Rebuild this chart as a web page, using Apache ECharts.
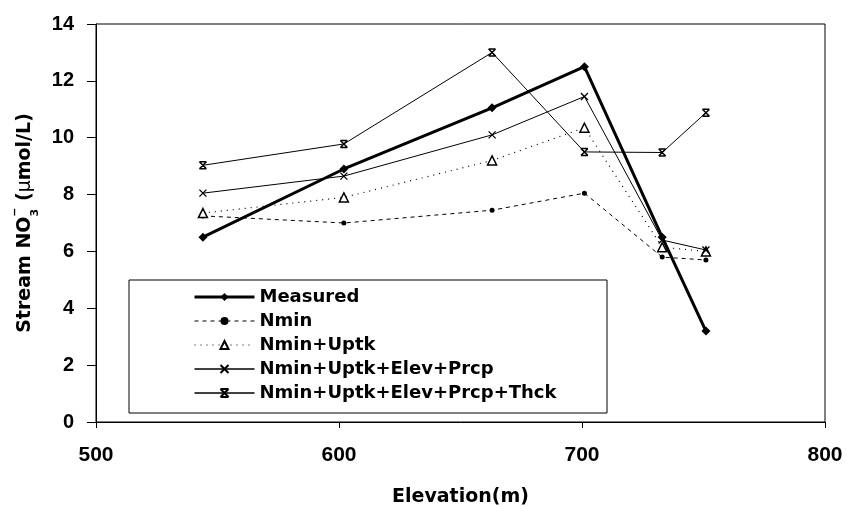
<!DOCTYPE html>
<html>
<head>
<meta charset="utf-8">
<script src="https://cdn.jsdelivr.net/npm/echarts@6/dist/echarts.min.js"></script>
<style>
  html, body { margin: 0; padding: 0; background: #fff; }
  #chart { width: 847px; height: 507px; }
</style>
</head>
<body>
<div id="chart"></div>
<script>
// elevation (m) of the sampled streams
const elevation = [544, 602, 663, 701, 733, 751];

const measured = [6.5, 8.9, 11.05, 12.5, 6.5, 3.2];
const nmin = [7.25, 7.0, 7.45, 8.05, 5.8, 5.7];
const nminUptk = [7.35, 7.9, 9.2, 10.35, 6.15, 6.0];
const nminUptkElevPrcp = [8.05, 8.65, 10.1, 11.45, 6.4, 6.05];
const nminUptkElevPrcpThck = [9.03, 9.78, 13.0, 9.5, 9.48, 10.88];

const yTicks = [0, 2, 4, 6, 8, 10, 12, 14];
const xTicks = [500, 600, 700, 800];

const seriesNames = [
    'Measured',
    'Nmin',
    'Nmin+Uptk',
    'Nmin+Uptk+Elev+Prcp',
    'Nmin+Uptk+Elev+Prcp+Thck'
];

const NUM_FONT = '"Liberation Sans", Arial, sans-serif';
const TEXT_FONT = '"DejaVu Sans", sans-serif';
const crossPath = 'path://M0,0L10,10M10,0L0,10';
const starPath = 'path://M0,0L10,0M0,10L10,10M0,0L10,10M10,0L0,10';

function pairs(values) {
    return elevation.map((x, i) => [x, values[i]]);
}

const chart = echarts.init(document.getElementById('chart'));

const option = {
    animation: false,
    backgroundColor: '#fff',
    textStyle: { fontFamily: NUM_FONT, color: '#000' },
    grid: {
        left: 96, right: 22, top: 24, bottom: 85,
        outerBoundsMode: 'none',
        show: true, borderColor: '#000', borderWidth: 1
    },
    xAxis: {
        type: 'value',
        min: 500, max: 800, interval: 100,
        name: 'Elevation(m)',
        nameLocation: 'middle',
        nameGap: 66,
        nameTextStyle: { fontSize: 19, fontWeight: 'bold', color: '#000', fontFamily: TEXT_FONT },
        axisLine: { lineStyle: { color: '#000', width: 1 } },
        axisTick: { length: 6, lineStyle: { color: '#000' } },
        axisLabel: {
            fontSize: 21, fontWeight: 'bold', color: '#000', margin: 23,
            formatter: v => xTicks.includes(v) ? String(v) : ''
        },
        splitLine: { show: false }
    },
    yAxis: {
        type: 'value',
        min: 0, max: 14, interval: 2,
        name: 'Stream NO{sub|3}{sup|−} ({b|μ}mol/L)',
        nameLocation: 'middle',
        nameGap: 59,
        nameTextStyle: {
            fontSize: 19, fontWeight: 'bold', color: '#000', fontFamily: TEXT_FONT,
            rich: {
                sub: { fontSize: 11, fontWeight: 'bold', fontFamily: TEXT_FONT, verticalAlign: 'bottom', padding: [0, 0, -6, 0] },
                sup: { fontSize: 11, fontWeight: 'bold', fontFamily: TEXT_FONT, verticalAlign: 'top', padding: [-6, 0, 0, -8] },
                b: { fontSize: 19, fontWeight: 'normal', fontFamily: TEXT_FONT }
            }
        },
        axisLine: { show: true, lineStyle: { color: '#000', width: 1 } },
        axisTick: { show: true, length: 9, lineStyle: { color: '#000' } },
        axisLabel: {
            fontSize: 20, fontWeight: 'bold', color: '#000', margin: 22,
            formatter: v => yTicks.includes(v) ? String(v) : ''
        },
        splitLine: { show: false }
    },
    legend: {
        orient: 'vertical',
        left: 188, top: 283,
        itemWidth: 60, itemHeight: 10, itemGap: 6,
        data: [
            { name: seriesNames[0], lineStyle: { width: 3 } },
            { name: seriesNames[1], lineStyle: { width: 1 } },
            { name: seriesNames[2], lineStyle: { width: 1 } },
            { name: seriesNames[3], lineStyle: { width: 1.5 } },
            { name: seriesNames[4], lineStyle: { width: 1.5 } }
        ],
        textStyle: { fontSize: 18, lineHeight: 18, fontWeight: 'bold', color: '#000', fontFamily: TEXT_FONT },
        inactiveColor: '#000'
    },
    graphic: [{
        type: 'rect',
        shape: { x: 129, y: 280, width: 478, height: 133 },
        style: { fill: '#fff', stroke: '#000', lineWidth: 1 },
        z: 0, zlevel: 0
    }],
    series: [
        {
            name: seriesNames[0], type: 'line', data: pairs(measured),
            symbol: 'diamond', symbolSize: 9,
            lineStyle: { color: '#000', width: 3 },
            itemStyle: { color: '#000' }, z: 6
        },
        {
            name: seriesNames[1], type: 'line', data: pairs(nmin),
            symbol: 'circle', symbolSize: 5,
            lineStyle: { color: '#000', width: 1, type: [4, 4] },
            itemStyle: { color: '#000' }, z: 3
        },
        {
            name: seriesNames[2], type: 'line', data: pairs(nminUptk),
            symbol: 'triangle', symbolSize: 9,
            lineStyle: { color: '#000', width: 1.2, type: [1, 5] },
            itemStyle: { color: '#fff', borderColor: '#000', borderWidth: 1.5 }, z: 4
        },
        {
            name: seriesNames[3], type: 'line', data: pairs(nminUptkElevPrcp),
            symbol: crossPath, symbolSize: 7,
            lineStyle: { color: '#000', width: 1 },
            itemStyle: { color: 'none', borderColor: '#000', borderWidth: 1.3 }, z: 4
        },
        {
            name: seriesNames[4], type: 'line', data: pairs(nminUptkElevPrcpThck),
            symbol: starPath, symbolSize: 7,
            lineStyle: { color: '#000', width: 1 },
            itemStyle: { color: 'none', borderColor: '#000', borderWidth: 1.5 }, z: 4
        }
    ]
};

chart.setOption(option);
</script>
</body>
</html>
